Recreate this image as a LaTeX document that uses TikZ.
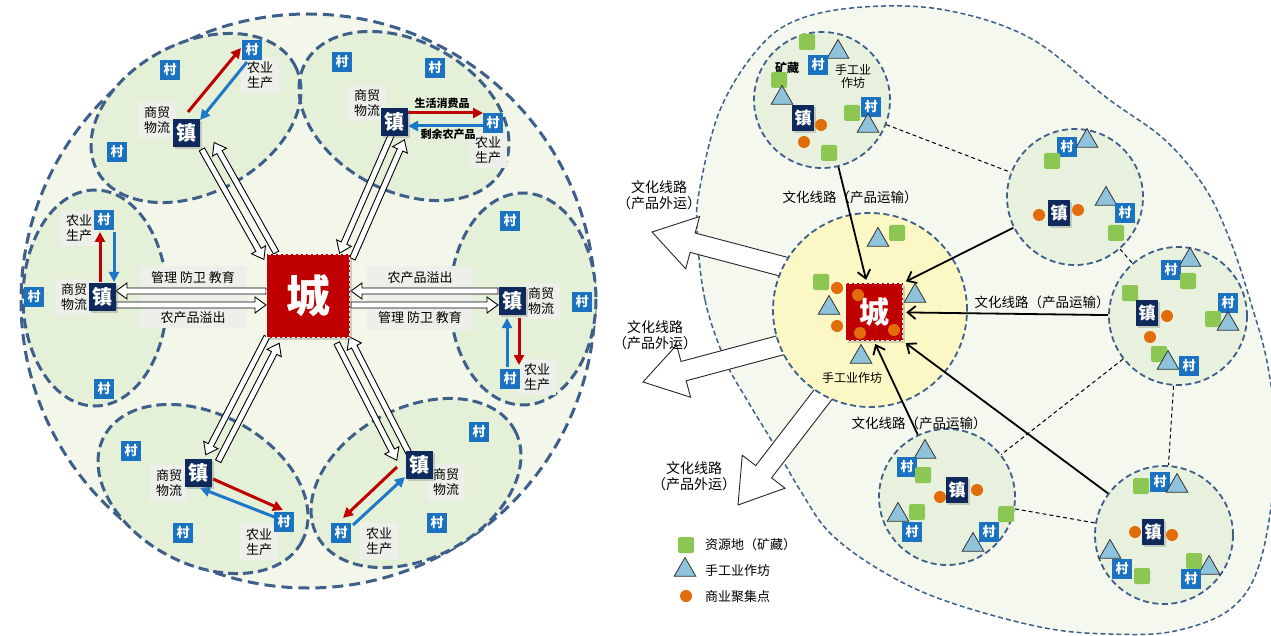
\documentclass[tikz,border=0pt]{standalone}
\usepackage{fontspec}
\setmainfont{Noto Sans CJK SC}
\usetikzlibrary{shapes.geometric,shadows,calc,arrows.meta}
\definecolor{dashblue}{HTML}{3E5F8A}
\definecolor{outerfill}{HTML}{F2F7EA}
\definecolor{petalfill}{HTML}{E5F0D8}
\definecolor{zhenc}{HTML}{0E2A5C}
\definecolor{cunc}{HTML}{1A72C0}
\definecolor{redc}{HTML}{C00000}
\definecolor{bluea}{HTML}{1E78C8}
\definecolor{labelg}{HTML}{EDEFEA}
\definecolor{gsqc}{HTML}{8CC653}
\definecolor{tric}{HTML}{8EC3DB}
\definecolor{orc}{HTML}{E36C0A}
\definecolor{cityy}{HTML}{FBF8C6}
\definecolor{rfill}{HTML}{F4F8EE}
\definecolor{cfill}{HTML}{E8F1DE}
\newcommand\fs[2]{\fontsize{#1pt}{#2pt}\selectfont}
% hollow arrow from #1 to #2, shifted #3, shaft half #4, head half #5, head length #6, style #7
\newcommand\harr[7]{%
  \pgfpointdiff{\pgfpointanchor{#1}{center}}{\pgfpointanchor{#2}{center}}%
  \pgfgetlastxy{\harrdx}{\harrdy}%
  \pgfmathsetmacro\harrang{atan2(\harrdy,\harrdx)}%
  \pgfmathsetmacro\harrlen{veclen(\harrdx,\harrdy)}%
  \begin{scope}[shift={(#1)}, rotate=\harrang]
    \draw[#7] (0,#3-#4) -- (\harrlen-#6,#3-#4) -- (\harrlen-#6,#3-#5) -- (\harrlen,#3)
      -- (\harrlen-#6,#3+#5) -- (\harrlen-#6,#3+#4) -- (0,#3+#4) -- cycle;
  \end{scope}}
\newcommand\petal[6]{\path[#6, rotate around={#5:(#1,#2)}] (#1,#2) ellipse [x radius=#3, y radius=#4];}
\newcommand\Cun[2]{\node[cun] (#1) at (#2) {村};}
\newcommand\Sq[2]{\node[gsq] (#1) at (#2) {};}
\newcommand\Tri[2]{\node[tri] (#1) at (#2) {};}
\newcommand\Dt[2]{\node[odt] (#1) at (#2) {};}
\begin{document}
\begin{tikzpicture}[x=1pt,y=-1pt,
  zhen/.style={fill=zhenc, text=white, font=\fs{20}{20}\bfseries, minimum width=27, minimum height=28, inner sep=0,
     drop shadow={shadow xshift=2pt, shadow yshift=-2pt, opacity=.35}},
  rzhen/.style={zhen, font=\fs{17}{17}\bfseries, minimum width=22, minimum height=26},
  cun/.style={fill=cunc, text=white, font=\fs{13}{13}\bfseries, minimum size=20, inner sep=0},
  lab/.style={font=\fs{13}{15}, align=center, fill=labelg, inner xsep=6, inner ysep=4},
  small/.style={font=\fs{11}{11}\bfseries, inner sep=1},
  gbox/.style={fill=labelg, inner sep=0},
  hollow/.style={draw=black, line width=0.9, fill=white},
  bighollow/.style={draw=black!85, line width=0.9, fill=white},
  redf/.style={draw=redc, line width=3, -{Triangle[length=10pt,width=10pt]}},
  bluef/.style={draw=bluea, line width=3, -{Triangle[length=10pt,width=10pt]}},
  pfill/.style={fill=petalfill},
  pdraw/.style={draw=dashblue, line width=3, dash pattern=on 10pt off 5pt},
  gsq/.style={fill=gsqc, minimum size=16, inner sep=0, rounded corners=1.5},
  tri/.style={regular polygon, regular polygon sides=3, minimum size=25, fill=tric, draw=black!80, line width=0.8, inner sep=0},
  odt/.style={circle, fill=orc, minimum size=12, inner sep=0},
  cluster/.style={circle, fill=cfill, draw=dashblue, line width=1.8, dash pattern=on 6pt off 3.5pt, minimum size=136, inner sep=0},
  flowarr/.style={line width=1.8, -{Straight Barb[length=8pt,width=13pt]}, shorten >=3pt},
  dashc/.style={line width=1, dash pattern=on 4pt off 3pt},
  rlab/.style={font=\fs{13.5}{16}, align=center, inner sep=1},
  citybox/.style={fill=redc, draw=white, line width=1.5, dash pattern=on 3pt off 2pt, text=white, font=\fs{44}{44}\bfseries,
     minimum size=83, inner sep=0, drop shadow={shadow xshift=2.5pt, shadow yshift=-2.5pt, opacity=.35}}
]
\useasboundingbox (0,0) rectangle (1271,636);
\clip (0,0) rectangle (1271,636);
\fill[white] (0,0) rectangle (1271,636);

%================ LEFT ================
\node[circle, fill=outerfill, draw=dashblue, line width=3, dash pattern=on 11pt off 6pt, minimum size=574, inner sep=0] (outerL) at (308,301) {};
\petal{196}{118}{112}{75}{28}{pfill}
\petal{404}{116}{112}{75}{-28}{pfill}
\petal{95}{298}{72}{108}{0}{pfill}
\petal{523}{299}{73}{106}{0}{pfill}
\petal{203}{489}{112}{75}{-28}{pfill}
\petal{416}{483}{112}{75}{28}{pfill}
\petal{196}{118}{112}{75}{28}{pdraw}
\petal{404}{116}{112}{75}{-28}{pdraw}
\petal{95}{298}{72}{108}{0}{pdraw}
\petal{523}{299}{73}{106}{0}{pdraw}
\petal{203}{489}{112}{75}{-28}{pdraw}
\petal{416}{483}{112}{75}{28}{pdraw}

% grey label boxes around the horizontal arrows
\node[gbox, minimum width=107, minimum height=62] (gbL) at (193,297) {};
\node[gbox, minimum width=106, minimum height=63] (gbR) at (420,298) {};
\node[font=\fs{13}{13}, inner sep=1] (tL1) at (193,278) {管理 防卫 教育};
\node[font=\fs{13}{13}, inner sep=1] (tL2) at (193,318) {农产品溢出};
\node[font=\fs{13}{13}, inner sep=1] (tR1) at (420,278) {农产品溢出};
\node[font=\fs{13}{13}, inner sep=1] (tR2) at (420,318) {管理 防卫 教育};

% text labels
\node[lab] (lTL1) at (157,120) {商贸\\物流};
\node[lab] (lTL2) at (260,75) {农业\\生产};
\node[lab] (lTR1) at (367,103) {商贸\\物流};
\node[lab] (lTR2) at (488,150) {农业\\生产};
\node[lab] (lL1) at (79,228) {农业\\生产};
\node[lab] (lL2) at (74,297) {商贸\\物流};
\node[lab] (lR1) at (541,301) {商贸\\物流};
\node[lab] (lR2) at (537,377) {农业\\生产};
\node[lab] (lBL1) at (169,483) {商贸\\物流};
\node[lab] (lBL2) at (259,542) {农业\\生产};
\node[lab] (lBR1) at (446,482) {商贸\\物流};
\node[lab] (lBR2) at (379,541) {农业\\生产};
\node[small] (sTR1) at (442,103) {生活消费品};
\node[small] (sTR2) at (448,134) {剩余农产品};

% hollow arrow end points
\coordinate (cL) at (266,298);  \coordinate (hL) at (116,298);
\coordinate (cR) at (351,298);  \coordinate (hR) at (498,298);
\coordinate (cTL) at (270,256); \coordinate (hTL) at (208,146);
\coordinate (cTR) at (346,256); \coordinate (hTR) at (398,137);
\coordinate (cBL) at (273,340); \coordinate (hBL) at (212,458);
\coordinate (cBR) at (343,340); \coordinate (hBR) at (403,457);
\harr{cL}{hL}{7}{3}{8}{11}{hollow}
\harr{hL}{cL}{7}{3}{8}{11}{hollow}
\harr{cR}{hR}{7}{3}{8}{11}{hollow}
\harr{hR}{cR}{7}{3}{8}{11}{hollow}
\harr{cTL}{hTL}{7}{3}{8}{11}{hollow}
\harr{hTL}{cTL}{7}{3}{8}{11}{hollow}
\harr{cTR}{hTR}{7}{3}{8}{11}{hollow}
\harr{hTR}{cTR}{7}{3}{8}{11}{hollow}
\harr{cBL}{hBL}{7}{3}{8}{11}{hollow}
\harr{hBL}{cBL}{7}{3}{8}{11}{hollow}
\harr{cBR}{hBR}{7}{3}{8}{11}{hollow}
\harr{hBR}{cBR}{7}{3}{8}{11}{hollow}

\node[citybox] (cityL) at (308,296) {城};

% red / blue flow arrows
\coordinate (a1s) at (188,112); \coordinate (a1e) at (241,48);
\coordinate (b1s) at (247,62);  \coordinate (b1e) at (200,120);
\coordinate (a2s) at (408,113); \coordinate (a2e) at (483,113);
\coordinate (b2s) at (483,126); \coordinate (b2e) at (408,126);
\coordinate (a3s) at (100,282); \coordinate (a3e) at (100,232);
\coordinate (b3s) at (114,232); \coordinate (b3e) at (114,282);
\coordinate (a4s) at (519,318); \coordinate (a4e) at (519,365);
\coordinate (b4s) at (507,367); \coordinate (b4e) at (507,318);
\coordinate (a5s) at (213,479); \coordinate (a5e) at (283,510);
\coordinate (b5s) at (277,518); \coordinate (b5e) at (200,488);
\coordinate (a6s) at (397,467); \coordinate (a6e) at (343,518);
\coordinate (b6s) at (353,525); \coordinate (b6e) at (405,477);
\foreach \i in {1,...,6}{\draw[redf] (a\i s) -- (a\i e); \draw[bluef] (b\i s) -- (b\i e);}

% towns
\node[zhen] (tTL) at (186,133) {镇};
\node[zhen] (tTR) at (394,122) {镇};
\node[zhen] (tL) at (102,297) {镇};
\node[zhen] (tR) at (512,301) {镇};
\node[zhen] (tBL) at (198,473) {镇};
\node[zhen] (tBR) at (419,465) {镇};

% villages
\Cun{v1}{252,50} \Cun{v2}{170,70} \Cun{v3}{117,152}
\Cun{v4}{342,62} \Cun{v5}{435,68} \Cun{v6}{493,123}
\Cun{v7}{104,220} \Cun{v8}{34,297} \Cun{v9}{104,389}
\Cun{v10}{510,221} \Cun{v11}{582,302} \Cun{v12}{510,379}
\Cun{v13}{131,451} \Cun{v14}{183,533} \Cun{v15}{284,522}
\Cun{v16}{479,432} \Cun{v17}{437,523} \Cun{v18}{341,533}

%================ RIGHT ================
\draw[fill=rfill, draw=dashblue, line width=1.5, dash pattern=on 5pt off 3pt]
  plot[smooth cycle, tension=0.6] coordinates {(697,230) (705,300) (725,360) (747,400) (773,443) (800,490) (830,533) (880,570) (943,600) (1040,627) (1110,634) (1175,631) (1233,607) (1262,555) (1276,450) (1268,367) (1250,300) (1230,240) (1205,188) (1165,140) (1107,98) (1030,38) (945,10) (863,7) (797,20) (757,50) (720,110) (700,187)};

% big outward arrows
\coordinate (bs1) at (800,271); \coordinate (bt1) at (652,232);
\coordinate (bs2) at (800,340); \coordinate (bt2) at (643,382);
\coordinate (bs3) at (832,383); \coordinate (bt3) at (738,505);
\harr{bs1}{bt1}{0}{10}{27}{42}{bighollow}
\harr{bs2}{bt2}{0}{10}{27}{42}{bighollow}
\harr{bs3}{bt3}{0}{10}{27}{42}{bighollow}
\node[rlab, font=\fs{14}{16}] (bl1) at (659,195) {文化线路\\（产品外运）};
\node[rlab, font=\fs{14}{16}] (bl2) at (655,335) {文化线路\\（产品外运）};
\node[rlab, font=\fs{14}{16}] (bl3) at (694,476) {文化线路\\（产品外运）};

% clusters
\node[circle, fill=cityy, draw=dashblue, line width=1.8, dash pattern=on 6pt off 3.5pt, minimum size=194, inner sep=0] (cityC) at (870,310) {};
\node[cluster] (c1) at (822,100) {};
\node[cluster] (c2) at (1075,197) {};
\node[cluster, minimum size=138] (c3) at (1178,316) {};
\node[cluster] (c4) at (947,497) {};
\node[cluster, minimum size=138] (c5) at (1164,535) {};

\node[citybox, minimum size=57, font=\fs{30}{30}\bfseries] (cityR) at (874,312) {城};

\draw[dashc] (c1) -- (c2);
\draw[dashc] (c2) -- (c3);
\draw[dashc] (c3) -- (c4);
\draw[dashc] (c3) -- (c5);
\draw[dashc] (c4) -- (c5);

\draw[flowarr] (c1) -- (cityR);
\draw[flowarr] (c2) -- (cityR.north east);
\draw[flowarr] (c3) -- (cityR);
\draw[flowarr] (c5) -- (cityR.south east);
\draw[flowarr] (c4) -- (cityR.south);

\node[rlab] (fl1) at (850,197) {文化线路（产品运输）};
\node[rlab] (fl2) at (1042,302) {文化线路（产品运输）};
\node[rlab] (fl3) at (919,423) {文化线路（产品运输）};

% city contents
\Dt{dc1}{837,288} \Dt{dc2}{837,326}
\Tri{tc1}{878,240} \Tri{tc2}{915,296} \Tri{tc3}{829,308} \Tri{tc4}{861,357}
\Sq{sc1}{897,233} \Sq{sc2}{821,282}
\Dt{dc3}{858,295} \Dt{dc4}{860,333} \Dt{dc5}{894,330}
\node[font=\fs{12}{12}, inner sep=1] (hwc) at (852,378) {手工业作坊};

% C1
\Sq{s11}{807,42} \Tri{t11}{838,52} \Cun{rv11}{818,65}
\node[font=\fs{12}{12}\bfseries, inner sep=1] (ky) at (787,68) {矿藏};
\node[font=\fs{12}{13}, align=center, inner sep=1] (sgy) at (853,76) {手工业\\作坊};
\Sq{s12}{779,80} \Tri{t12}{782,98} \node[rzhen] (z1) at (803,118) {镇};
\Dt{d11}{821,125} \Dt{d12}{804,142} \Sq{s13}{829,153} \Sq{s14}{852,113}
\Cun{rv12}{871,107} \Tri{t13}{868,126}
% C2
\Cun{rv21}{1067,147} \Tri{t21}{1087,141} \Sq{s21}{1052,161} \Tri{t22}{1106,199}
\Cun{rv22}{1125,213} \Sq{s22}{1116,233} \Dt{d21}{1039,215} \node[rzhen] (z2) at (1059,213) {镇};
\Dt{d22}{1078,210}
% C3
\Cun{rv31}{1171,270} \Tri{t31}{1190,260} \Sq{s31}{1188,281} \Sq{s32}{1130,293}
\node[rzhen] (z3) at (1147,313) {镇}; \Dt{d31}{1167,316} \Dt{d32}{1150,337}
\Cun{rv32}{1228,303} \Sq{s33}{1213,319} \Tri{t32}{1228,324}
\Sq{s34}{1159,354} \Tri{t33}{1168,363} \Cun{rv33}{1189,366}
% C4
\Tri{t41}{925,452} \Cun{rv41}{907,467} \Sq{s41}{923,475} \Dt{d41}{940,497}
\node[rzhen] (z4) at (957,490) {镇}; \Dt{d42}{977,490}
\Tri{t42}{898,515} \Sq{s42}{917,512} \Cun{rv42}{912,532}
\Sq{s43}{1006,514} \Cun{rv43}{989,532} \Tri{t43}{973,545}
% C5
\Sq{s51}{1141,486} \Cun{rv51}{1160,482} \Tri{t51}{1177,486}
\Dt{d51}{1135,532} \node[rzhen] (z5) at (1153,532) {镇}; \Dt{d52}{1172,535}
\Tri{t52}{1110,552} \Cun{rv52}{1122,569} \Sq{s52}{1142,576}
\Sq{s53}{1194,561} \Tri{t53}{1209,568} \Cun{rv53}{1191,579}

% legend
\Sq{lg1}{686,545} \Tri{lg2}{685,570} \Dt{lg3}{686,596}
\node[anchor=west, font=\fs{13}{13}, inner sep=0] (lt1) at (705,545) {资源地（矿藏）};
\node[anchor=west, font=\fs{13}{13}, inner sep=0] (lt2) at (705,571) {手工业作坊};
\node[anchor=west, font=\fs{13}{13}, inner sep=0] (lt3) at (705,597) {商业聚集点};
\end{tikzpicture}
\end{document}
